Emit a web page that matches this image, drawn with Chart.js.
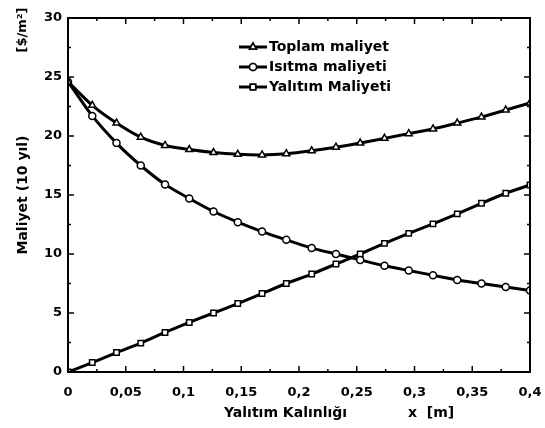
<!DOCTYPE html>
<html>
<head>
<meta charset="utf-8">
<script src="https://cdn.jsdelivr.net/npm/chart.js@4.4.0/dist/chart.umd.min.js"></script>
<style>
  body { margin: 0; background: #fff; }
  canvas { display: block; }
</style>
</head>
<body>
<canvas id="myChart" width="545" height="428"></canvas>
<script>
// insulation thickness (m), 20 points between 0 and 0.4
const xValues = [0, 0.021, 0.042, 0.063, 0.084, 0.105, 0.126, 0.147, 0.168, 0.189,
  0.211, 0.232, 0.253, 0.274, 0.295, 0.316, 0.337, 0.358, 0.379, 0.4];
const toplam = [24.6, 22.6, 21.1, 19.9, 19.2, 18.85, 18.6, 18.45, 18.4, 18.5,
  18.75, 19.05, 19.4, 19.8, 20.2, 20.6, 21.1, 21.6, 22.2, 22.8];
const isitma = [24.6, 21.7, 19.4, 17.5, 15.9, 14.7, 13.6, 12.7, 11.9, 11.2,
  10.5, 10.0, 9.5, 9.0, 8.6, 8.2, 7.8, 7.5, 7.2, 6.9];
const yalitim = [0, 0.8, 1.65, 2.45, 3.35, 4.2, 5.0, 5.8, 6.65, 7.5,
  8.3, 9.15, 10.0, 10.9, 11.75, 12.55, 13.4, 14.3, 15.15, 15.85];
const labels = ["Toplam maliyet", "Isıtma maliyeti", "Yalıtım Maliyeti"];
const xTickLabels = ["0", "0,05", "0,1", "0,15", "0,2", "0,25", "0,3", "0,35", "0,4"];
const yTickLabels = ["0", "5", "10", "15", "20", "25", "30"];

const FONT = "'DejaVu Sans', sans-serif";

function pts(ys) {
  return xValues.map((x, i) => ({ x: x, y: ys[i] }));
}

function ds(label, ys, style, r) {
  return {
    label: label,
    data: pts(ys),
    borderColor: "#000",
    borderWidth: 3,
    backgroundColor: "#fff",
    pointStyle: style,
    pointRadius: r,
    pointBorderWidth: 1.5,
    pointBorderColor: "#000",
    pointBackgroundColor: "#fff",
    tension: 0.2,
  };
}

const decor = {
  id: "decor",
  afterDatasetsDraw(chart) {
    const ctx = chart.ctx;
    const a = chart.chartArea;
    const xs = chart.scales.x;
    const ys = chart.scales.y;
    ctx.save();
    ctx.strokeStyle = "#000";
    ctx.lineWidth = 2;
    ctx.strokeRect(a.left, a.top, a.right - a.left, a.bottom - a.top);

    // inward tick marks on all four sides
    ctx.lineWidth = 1.5;
    for (let v = 0; v <= 0.4001; v += 0.025) {
      const px = xs.getPixelForValue(v);
      const len = Math.abs(v / 0.05 - Math.round(v / 0.05)) < 0.01 ? 6 : 3;
      ctx.beginPath();
      ctx.moveTo(px, a.bottom); ctx.lineTo(px, a.bottom - len);
      ctx.moveTo(px, a.top); ctx.lineTo(px, a.top + len);
      ctx.stroke();
    }
    for (let v = 0; v <= 30.01; v += 2.5) {
      const py = ys.getPixelForValue(v);
      const len = v % 5 === 0 ? 6 : 3;
      ctx.beginPath();
      ctx.moveTo(a.left, py); ctx.lineTo(a.left + len, py);
      ctx.moveTo(a.right, py); ctx.lineTo(a.right - len, py);
      ctx.stroke();
    }

    // axis titles
    ctx.fillStyle = "#000";
    ctx.font = "bold 14px " + FONT;
    ctx.textBaseline = "middle";
    ctx.textAlign = "left";
    ctx.fillText("Yalıtım Kalınlığı", 224, 413);
    ctx.fillText("x  [m]", 408, 413);

    ctx.save();
    ctx.translate(23, (a.top + a.bottom) / 2);
    ctx.rotate(-Math.PI / 2);
    ctx.textAlign = "center";
    ctx.fillText("Maliyet (10 yıl)", 0, 0);
    ctx.restore();

    ctx.save();
    ctx.translate(23, 30);
    ctx.rotate(-Math.PI / 2);
    ctx.textAlign = "center";
    ctx.font = "bold 13px " + FONT;
    ctx.fillText("[$/m²]", 0, 0);
    ctx.restore();

    // legend: line + marker + label
    const rows = [47, 67, 87];
    chart.data.datasets.forEach((d, i) => {
      const y = rows[i];
      ctx.lineWidth = 3;
      ctx.beginPath();
      ctx.moveTo(239, y); ctx.lineTo(267, y);
      ctx.stroke();
      ctx.lineWidth = 1.5;
      ctx.fillStyle = "#fff";
      Chart.helpers.drawPoint(ctx, {
        pointStyle: d.pointStyle, radius: d.pointRadius, rotation: 0, borderWidth: 1.5,
      }, 253, y);
      ctx.fill();
      ctx.stroke();
      ctx.fillStyle = "#000";
      ctx.font = "bold 14px " + FONT;
      ctx.textAlign = "left";
      ctx.fillText(d.label, 269, y);
    });
    ctx.restore();
  },
};

new Chart(document.getElementById("myChart").getContext("2d"), {
  type: "line",
  data: {
    datasets: [
      ds(labels[0], toplam, "triangle", 4),
      ds(labels[1], isitma, "circle", 3.5),
      ds(labels[2], yalitim, "rect", 3.8),
    ],
  },
  options: {
    responsive: false,
    animation: false,
    devicePixelRatio: 1,
    layout: { padding: { left: 0, top: 18, right: 15, bottom: 0 } },
    plugins: { legend: { display: false }, tooltip: { enabled: false } },
    scales: {
      x: {
        type: "linear",
        min: 0,
        max: 0.4,
        afterBuildTicks: (s) => { s.ticks = xTickLabels.map((t, i) => ({ value: i * 0.05 })); },
        ticks: {
          callback: (v, i) => xTickLabels[i],
          color: "#000",
          font: { family: FONT, size: 13, weight: "bold" },
          padding: 13,
          maxRotation: 0,
          autoSkip: false,
        },
        grid: { display: false, drawTicks: false },
        border: { display: false },
        afterFit: (s) => { s.height = 56; s.paddingLeft = 0; s.paddingRight = 0; },
      },
      y: {
        min: 0,
        max: 30,
        afterBuildTicks: (s) => { s.ticks = yTickLabels.map((t) => ({ value: Number(t) })); },
        ticks: {
          callback: (v, i) => yTickLabels[i],
          color: "#000",
          font: { family: FONT, size: 13, weight: "bold" },
          padding: 6,
        },
        grid: { display: false, drawTicks: false },
        border: { display: false },
        afterFit: (s) => { s.width = 68; s.paddingTop = 0; s.paddingBottom = 0; },
      },
    },
  },
  plugins: [decor],
});
</script>
</body>
</html>
